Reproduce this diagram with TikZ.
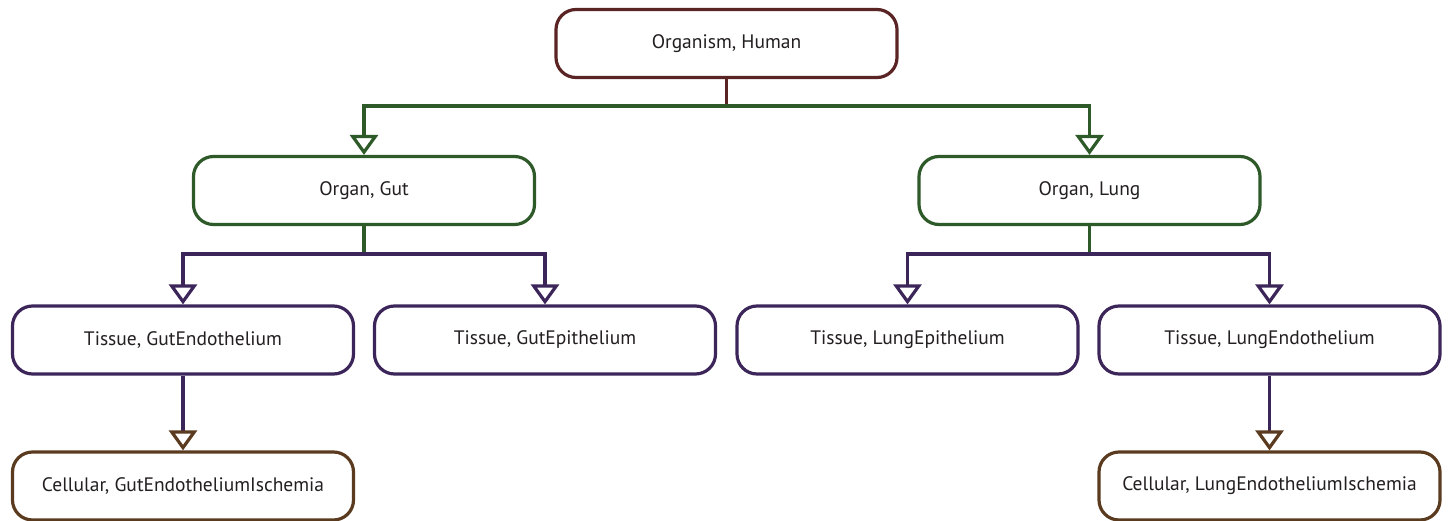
\documentclass[tikz,border=0pt]{standalone}
\usepackage{fontspec}
\setmainfont{PT Sans}
\usetikzlibrary{arrows.meta}
\definecolor{orgc}{HTML}{5A2324}
\definecolor{organc}{HTML}{2E5A2A}
\definecolor{tisc}{HTML}{3B2559}
\definecolor{cellc}{HTML}{5B3B20}
\definecolor{txtc}{HTML}{231F20}
\tikzset{
  box/.style={draw, line width=3.2pt, rounded corners=20pt, fill=white,
    minimum width=341pt, minimum height=68pt, inner sep=0pt,
    font=\fontsize{19.5}{23}\selectfont, text=txtc},
  conn/.style={line width=3.2pt},
  tip/.style={-{Triangle[open, length=20pt, width=28pt, color=#1]}},
}
\begin{document}
\begin{tikzpicture}[x=1pt, y=-1pt]
\useasboundingbox (0,0) rectangle (1448,521);
\node[box, draw=orgc] (org) at (726.5,43.5) {Organism, Human};
\node[box, draw=organc] (gut) at (364,190.5) {Organ, Gut};
\node[box, draw=organc] (lung) at (1089.5,190.5) {Organ, Lung};
\node[box, draw=tisc] (t1) at (183,340) {Tissue, GutEndothelium};
\node[box, draw=tisc] (t2) at (545,340) {Tissue, GutEpithelium};
\node[box, draw=tisc] (t3) at (907.5,340) {Tissue, LungEpithelium};
\node[box, draw=tisc] (t4) at (1269.5,340) {Tissue, LungEndothelium};
\node[box, draw=cellc] (c1) at (183,486) {Cellular, GutEndotheliumIschemia};
\node[box, draw=cellc] (c2) at (1269.5,486) {Cellular, LungEndotheliumIschemia};
% organism -> organs
\coordinate (j1) at (org.south |- 0,106);
\draw[conn, orgc] (org.south) -- (j1);
\draw[conn, organc, tip=organc] (j1) -| (gut.north);
\draw[conn, organc, tip=organc] (j1) -| (lung.north);
% gut -> tissues
\coordinate (j2) at (gut.south |- 0,254);
\draw[conn, organc] (gut.south) -- (j2);
\draw[conn, tisc, tip=tisc] (j2) -| (t1.north);
\draw[conn, tisc, tip=tisc] (j2) -| (t2.north);
% lung -> tissues
\coordinate (j3) at (lung.south |- 0,254);
\draw[conn, organc] (lung.south) -- (j3);
\draw[conn, tisc, tip=tisc] (j3) -| (t3.north);
\draw[conn, tisc, tip=tisc] (j3) -| (t4.north);
% tissues -> cellular
\draw[conn, tisc, tip=cellc] (t1.south) -- (c1.north);
\draw[conn, tisc, tip=cellc] (t4.south) -- (c2.north);
\end{tikzpicture}
\end{document}
